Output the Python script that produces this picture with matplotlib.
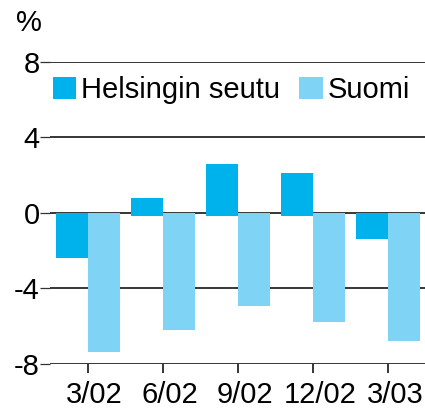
import matplotlib
matplotlib.use("Agg")
import matplotlib.pyplot as plt
from matplotlib.patches import Patch
import matplotlib.transforms as mtransforms
import numpy as np

categories = ["3/02", "6/02", "9/02", "12/02", "3/03"]
helsinki = [-2.4, 0.8, 2.6, 2.1, -1.4]
suomi = [-7.4, -6.2, -4.95, -5.8, -6.8]
yticks = [-8, -4, 0, 4, 8]
series_names = ["Helsingin seutu", "Suomi"]

c_hel = "#00b2ec"
c_suo = "#7fd3f5"

plt.rcParams['font.family'] = ['Liberation Sans', 'DejaVu Sans']
FS = 21

fig = plt.figure(figsize=(4.25, 4.08), dpi=100)
ax = fig.add_axes([50/425, 1-363.7/408, 1-50/425, (363.7-61.7)/408])

x = np.arange(len(categories))
w = 0.426
overlap = 0.15
hb = [(-overlap if v > 0 else 0) for v in helsinki]
hh = [(v + overlap if v > 0 else v) for v in helsinki]
ax.bar(x - w/2, hh, w, bottom=hb, color=c_hel, zorder=3, linewidth=0)
ax.bar(x + w/2, suomi, w, color=c_suo, zorder=3, linewidth=0)

ax.set_ylim(-8, 8)
ax.set_xlim(-0.502, 4.488)
for s in ax.spines.values():
    s.set_visible(False)
for yv in yticks:
    ax.axhline(yv, color='black', lw=1.1, zorder=1)

ax.set_yticks(yticks)
ax.set_yticklabels([str(v) for v in yticks], fontsize=FS)
ax.tick_params(axis='y', direction='out', length=7, width=0.9, pad=0.5, color='#333333')
ax.set_xticks(x)
ax.set_xticklabels(categories, fontsize=FS)
ax.tick_params(axis='x', direction='out', length=6.5, width=1.1, pad=6)
offset = mtransforms.ScaledTranslation(7/100, 0, fig.dpi_scale_trans)
for lab in ax.get_xticklabels():
    lab.set_transform(lab.get_transform() + offset)

handles = [Patch(color=c_hel, linewidth=0), Patch(color=c_suo, linewidth=0)]
ax.legend(handles, series_names, loc='upper left', bbox_to_anchor=(0.0, 0.962),
          ncol=2, frameon=False, fontsize=FS, handlelength=0.8, handleheight=0.75,
          handletextpad=0.17, columnspacing=0.65, borderaxespad=0, borderpad=0.1)

fig.text(16/425, 1-9/408, "%", fontsize=FS, ha='left', va='top')

fig.savefig("out.png", dpi=100)
